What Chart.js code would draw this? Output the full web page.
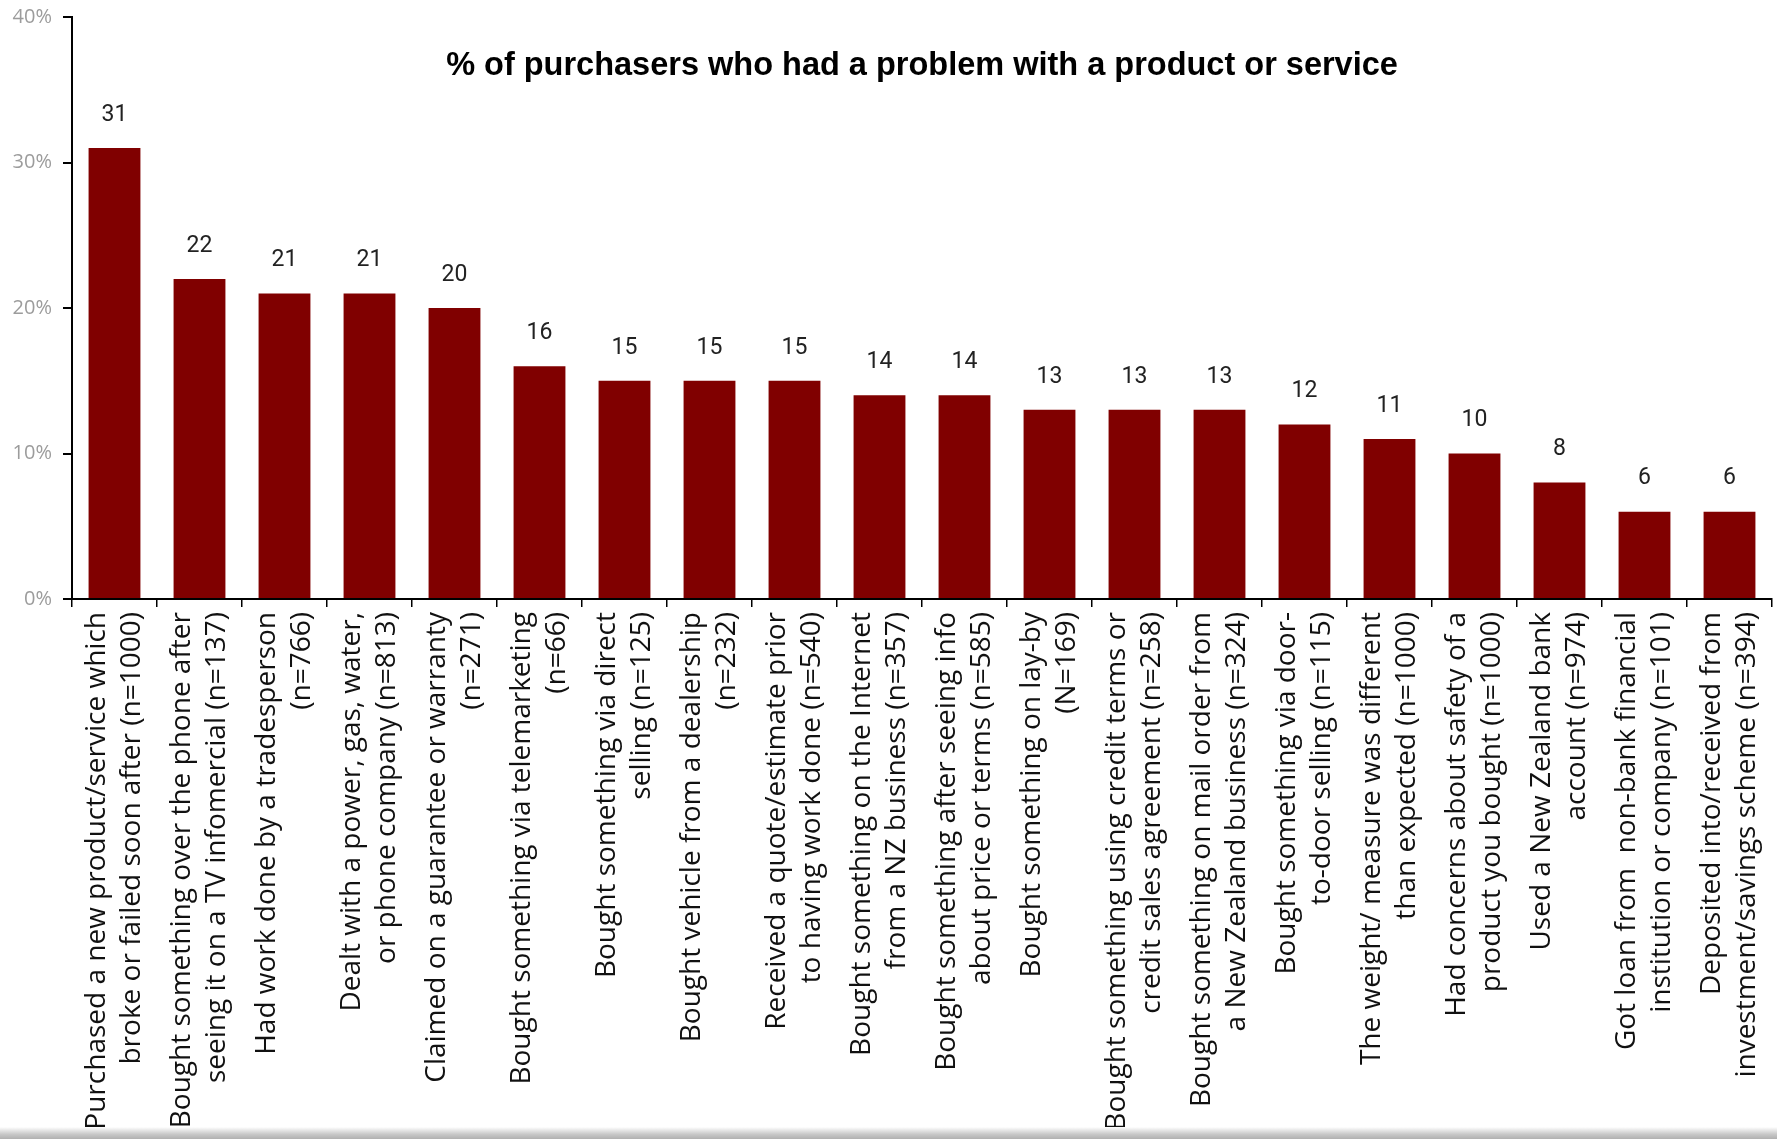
<!DOCTYPE html>
<html>
<head>
<meta charset="utf-8">
<script src="https://cdn.jsdelivr.net/npm/chart.js@4.4.1/dist/chart.umd.min.js"></script>
<style>
  html, body { margin:0; padding:0; background:#fff; }
  #wrap { position:relative; width:1777px; height:1139px; overflow:hidden; }
  #strip { position:absolute; left:0; right:0; bottom:0; height:12px;
           background:linear-gradient(to bottom, #ffffff, #c8c8c8 60%, #b0b0b0); }
</style>
</head>
<body>
<div id="wrap">
  <canvas id="problems" width="1777" height="1139"></canvas>
  <div id="strip"></div>
</div>
<script>
const TITLE = '% of purchasers who had a problem with a product or service';

const categories = [
  ['Purchased a new product/service which', 'broke or failed soon after (n=1000)'],
  ['Bought something over the phone after', 'seeing it on a TV infomercial (n=137)'],
  ['Had work done by a tradesperson', '(n=766)'],
  ['Dealt with a power, gas, water,', 'or phone company (n=813)'],
  ['Claimed on a guarantee or warranty', '(n=271)'],
  ['Bought something via telemarketing', '(n=66)'],
  ['Bought something via direct', 'selling (n=125)'],
  ['Bought vehicle from a dealership', '(n=232)'],
  ['Received a quote/estimate prior', 'to having work done (n=540)'],
  ['Bought something on the Internet', 'from a NZ business (n=357)'],
  ['Bought something after seeing info', 'about price or terms (n=585)'],
  ['Bought something on lay-by', '(N=169)'],
  ['Bought something using credit terms or', 'credit sales agreement (n=258)'],
  ['Bought something on mail order from', 'a New Zealand business (n=324)'],
  ['Bought something via door-', 'to-door selling (n=115)'],
  ['The weight/ measure was different', 'than expected (n=1000)'],
  ['Had concerns about safety of a', 'product you bought (n=1000)'],
  ['Used a New Zealand bank', 'account (n=974)'],
  ['Got loan from  non-bank financial', 'institution or company (n=101)'],
  ['Deposited into/received from', 'investment/savings scheme (n=394)']
];

const problemPct = [31, 22, 21, 21, 20, 16, 15, 15, 15, 14, 14, 13, 13, 13, 12, 11, 10, 8, 6, 6];

const yTicks = [0, 10, 20, 30, 40];

const LABEL_FONT = '"Open Sans", Lato, sans-serif';
const LINE_H = 35;

// title sits inside the plot, centred over the bars
const titlePlugin = {
  id: 'innerTitle',
  afterDraw(chart){
    const {ctx, chartArea} = chart;
    ctx.save();
    ctx.font = 'bold 32.5px "Liberation Sans", Arial, sans-serif';
    ctx.fillStyle = '#000';
    ctx.textAlign = 'center';
    ctx.textBaseline = 'middle';
    ctx.fillText(TITLE, (chartArea.left + chartArea.right) / 2, 66);
    ctx.restore();
  }
};

// value printed above each bar
const valuePlugin = {
  id: 'barValues',
  afterDatasetsDraw(chart){
    const {ctx} = chart;
    const meta = chart.getDatasetMeta(0);
    ctx.save();
    ctx.font = '23px Roboto, sans-serif';
    ctx.fillStyle = '#222';
    ctx.textAlign = 'center';
    ctx.textBaseline = 'middle';
    meta.data.forEach((bar, i) => {
      ctx.fillText(String(problemPct[i]), bar.x, bar.y - 33);
    });
    ctx.restore();
  }
};

new Chart(document.getElementById('problems'), {
  type: 'bar',
  data: {
    labels: categories,
    datasets: [{
      data: problemPct,
      backgroundColor: '#800000',
      borderWidth: 0,
      categoryPercentage: 1,
      barPercentage: 0.61
    }]
  },
  options: {
    responsive: false,
    animation: false,
    devicePixelRatio: 1,
    layout: { padding: { top: 17, right: 5, left: 0, bottom: 0 } },
    plugins: { legend: { display: false }, tooltip: { enabled: false } },
    scales: {
      x: {
        grid: { offset: true, drawOnChartArea: false, tickLength: 8, color: '#000', lineWidth: 1.5 },
        border: { color: '#000', width: 2 },
        ticks: {
          autoSkip: false, minRotation: 90, maxRotation: 90, padding: 5,
          color: '#111', labelOffset: -LINE_H / 2,
          font: { family: LABEL_FONT, size: 28, lineHeight: LINE_H + 'px' }
        },
        afterFit(scale){
          scale.height = 540;
          scale.paddingLeft = 0;
          scale.paddingRight = 0;
        }
      },
      y: {
        min: 0, max: 40,
        afterBuildTicks(scale){ scale.ticks = yTicks.map(v => ({value: v})); },
        grid: { drawOnChartArea: false, tickLength: 9, color: '#000', lineWidth: 2 },
        border: { color: '#000', width: 2 },
        ticks: {
          color: '#9c9c9c', padding: 11,
          font: { family: '"Open Sans", sans-serif', size: 20 },
          callback: v => v + '%'
        },
        afterFit(scale){
          scale.width = 72;
          scale.paddingTop = 0;
          scale.paddingBottom = 0;
        }
      }
    }
  },
  plugins: [titlePlugin, valuePlugin]
});
</script>
</body>
</html>
